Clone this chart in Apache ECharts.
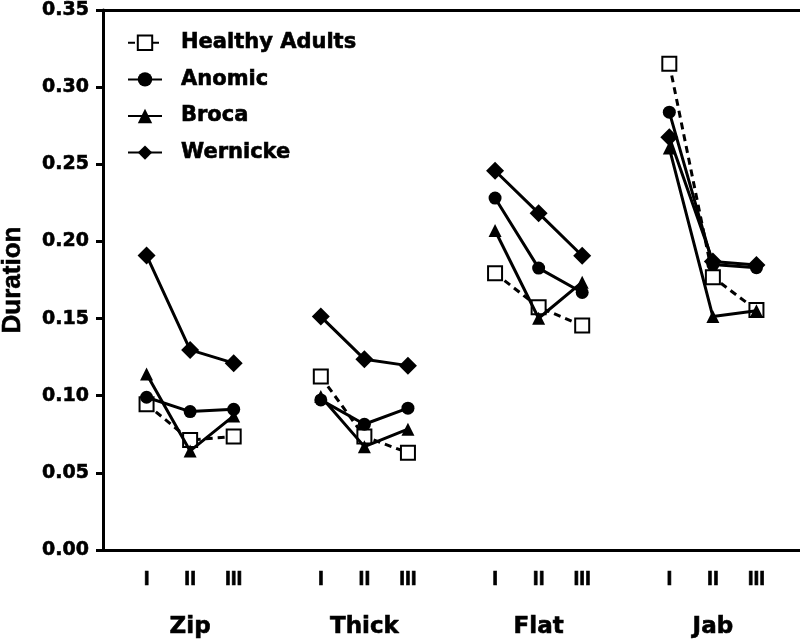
<!DOCTYPE html>
<html>
<head>
<meta charset="utf-8">
<script src="https://cdn.jsdelivr.net/npm/echarts@6/dist/echarts.min.js"></script>
<style>html,body{margin:0;padding:0;background:#fff;}#c{width:800px;height:641px;}</style>
</head>
<body>
<div id="c"></div>
<script>
var groups = ['Zip', 'Thick', 'Flat', 'Jab'];
var levels = ['I', 'II', 'III'];
var yTicks = [0, 0.05, 0.10, 0.15, 0.20, 0.25, 0.30, 0.35];

// values per group: [I, II, III]
var healthy  = [[0.0945, 0.0713, 0.0735], [0.1124, 0.0735, 0.0631], [0.1794, 0.1574, 0.1455], [0.3152, 0.1768, 0.1556]];
var anomic   = [[0.0990, 0.0897, 0.0912], [0.0973, 0.0815, 0.0919], [0.2281, 0.1827, 0.1669], [0.2838, 0.1850, 0.1830]];
var broca    = [[0.1140, 0.0642, 0.0869], [0.0995, 0.0670, 0.0783], [0.2071, 0.1502, 0.1736], [0.2605, 0.1513, 0.1550]];
var wernicke = [[0.1909, 0.1297, 0.1211], [0.1513, 0.1237, 0.1195], [0.2458, 0.2183, 0.1907], [0.2676, 0.1870, 0.1848]];

// category slots: gap, I, II, III, gap, I, II, III, ... gap
var levelCats = [''];
var groupCats = [''];
groups.forEach(function (g) {
  levels.forEach(function (l, k) {
    levelCats.push(l);
    groupCats.push(k === 1 ? g : '');
  });
  levelCats.push('');
  groupCats.push('');
});
function slots(arr) {
  var out = [null];
  arr.forEach(function (grp) {
    grp.forEach(function (v) { out.push(v); });
    out.push(null);
  });
  return out;
}

var WIDE = '"DejaVu Sans", Verdana, sans-serif';
var NARROW = '"Liberation Sans", Arial, sans-serif';
var HEAVY = {textBorderColor: '#000', textBorderWidth: 0.6};
var chart = echarts.init(document.getElementById('c'), null, {renderer: 'canvas'});

function mkSeries(name, data, symbol, size, fill, dashed, z) {
  return {
    name: name, type: 'line', data: slots(data), connectNulls: false,
    symbol: symbol, symbolSize: size, showSymbol: true,
    xAxisIndex: 0, yAxisIndex: 0, z: z,
    lineStyle: {color: '#000', width: 3, type: dashed ? [7, 5] : 'solid'},
    itemStyle: {color: fill, borderColor: '#000', borderWidth: fill === '#fff' ? 2 : 0, opacity: 1},
    emphasis: {disabled: true},
    animation: false
  };
}

chart.setOption({
  animation: false,
  backgroundColor: '#fff',
  grid: {left: 103, right: 0, top: 10, bottom: 91, containLabel: false, outerBoundsMode: 'none'},
  legend: {
    orient: 'vertical', left: 127, top: 32, itemGap: 15,
    itemWidth: 34, itemHeight: 18, padding: 0,
    textStyle: Object.assign({fontFamily: WIDE, fontWeight: 'bold', fontSize: 21, color: '#000', padding: [0, 0, 0, 14]}, HEAVY),
    data: ['Healthy Adults', 'Anomic', 'Broca', 'Wernicke']
  },
  xAxis: [
    {
      type: 'category', data: levelCats.slice(0, 17), boundaryGap: false, position: 'bottom',
      axisLine: {lineStyle: {color: '#000', width: 3}},
      axisTick: {show: false},
      axisLabel: Object.assign({interval: 0, margin: 19, fontFamily: NARROW, fontWeight: 'bold', fontSize: 21, color: '#000'}, HEAVY),
      splitLine: {show: false}
    },
    {
      type: 'category', data: groupCats.slice(0, 17), boundaryGap: false, position: 'bottom',
      axisLine: {show: false}, axisTick: {show: false},
      axisLabel: Object.assign({interval: 0, margin: 66, fontFamily: WIDE, fontWeight: 'bold', fontSize: 23, color: '#000'}, HEAVY),
      splitLine: {show: false}
    },
    {
      type: 'category', data: levelCats.slice(0, 17), boundaryGap: false, position: 'top',
      axisLine: {lineStyle: {color: '#000', width: 3}},
      axisTick: {show: false}, axisLabel: {show: false}, splitLine: {show: false}
    }
  ],
  yAxis: {
    type: 'value', min: yTicks[0], max: yTicks[yTicks.length - 1], interval: 0.05,
    name: 'Duration', nameLocation: 'middle', nameRotate: 90, nameGap: 77,
    nameTextStyle: Object.assign({fontFamily: NARROW, fontWeight: 'bold', fontSize: 26, color: '#000'}, HEAVY),
    axisLine: {show: true, lineStyle: {color: '#000', width: 3}},
    axisTick: {show: true, length: 7, lineStyle: {color: '#000', width: 3}},
    axisLabel: Object.assign({margin: 14, fontFamily: WIDE, fontWeight: 'bold', fontSize: 19, color: '#000',
      formatter: function (v) { return v.toFixed(2); }}, HEAVY),
    splitLine: {show: false}
  },
  series: [
    mkSeries('Healthy Adults', healthy, 'rect', 14, '#fff', true, 2),
    mkSeries('Anomic', anomic, 'circle', 13, '#000', false, 3),
    mkSeries('Broca', broca, 'triangle', 13, '#000', false, 4),
    mkSeries('Wernicke', wernicke, 'diamond', 18, '#000', false, 5)
  ]
});
</script>
</body>
</html>
